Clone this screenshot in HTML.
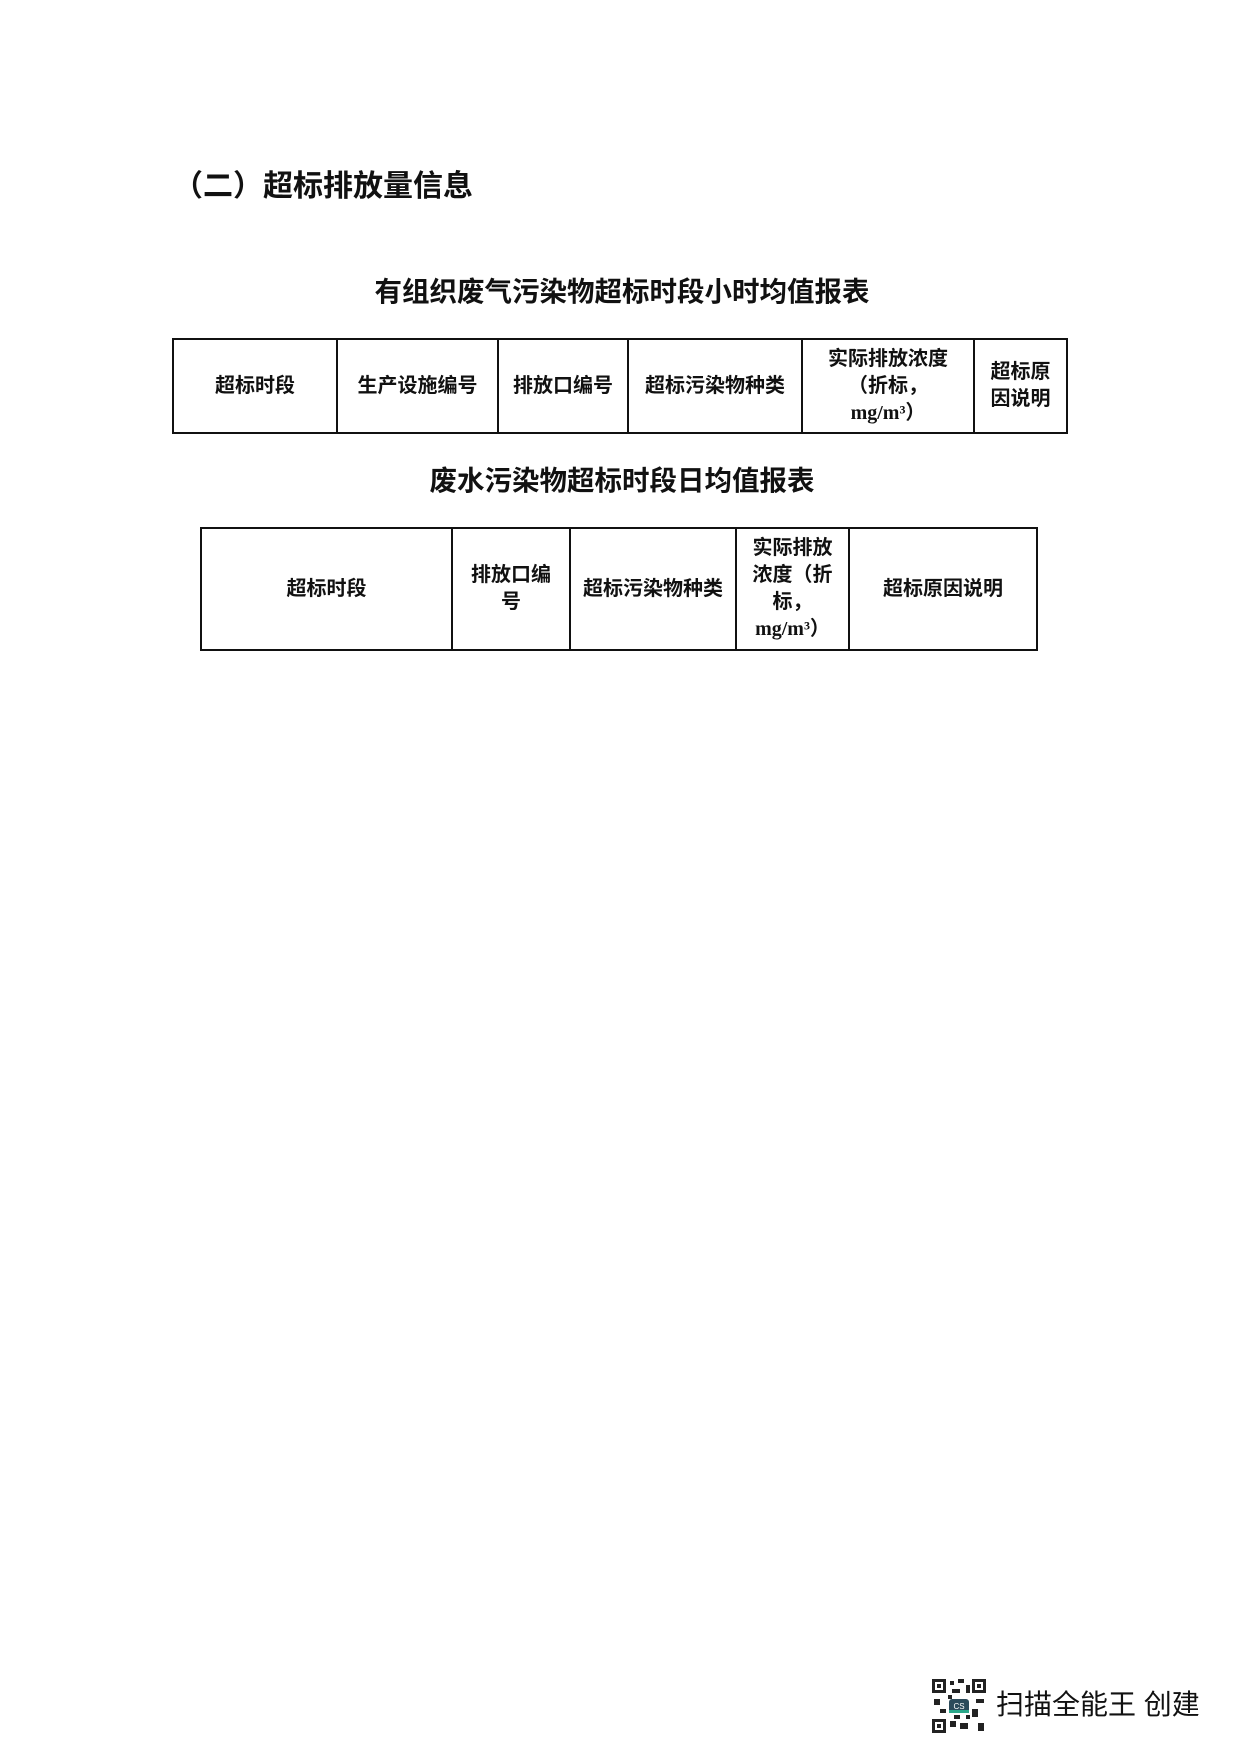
<!DOCTYPE html>
<html><head><meta charset="utf-8"><style>
body{margin:0;width:1240px;height:1755px;background:#fff;position:relative;font-family:"Liberation Serif","Noto Serif CJK SC","Noto Sans CJK SC",serif;color:#111;overflow:hidden}
.a{position:absolute}
.h{font-weight:bold;white-space:nowrap}
table{position:absolute;border-collapse:collapse;table-layout:fixed}
td{border:2px solid #111;text-align:center;vertical-align:middle;font-weight:bold;font-size:20px;line-height:27px;padding:0 2px;font-family:"Liberation Serif","Noto Sans CJK SC",sans-serif}
</style></head><body>
<div class="a h" style="left:173px;top:165px;font-size:30px;line-height:44px;font-family:'Liberation Sans','Noto Sans CJK SC',sans-serif">（二）超标排放量信息</div>
<div class="a h" style="left:0;width:1244px;text-align:center;top:270px;font-size:27.5px;line-height:44px;font-family:'Liberation Sans','Noto Sans CJK SC',sans-serif">有组织废气污染物超标时段小时均值报表</div>
<table style="left:172px;top:338px;width:894px;height:96px">
<colgroup><col style="width:164px"><col style="width:161px"><col style="width:130px"><col style="width:174px"><col style="width:172px"><col style="width:93px"></colgroup>
<tr><td>超标时段</td><td>生产设施编号</td><td>排放口编号</td><td>超标污染物种类</td><td>实际排放浓度<br>（折标，<br>mg/m³）</td><td>超标原<br>因说明</td></tr>
</table>
<div class="a h" style="left:0;width:1244px;text-align:center;top:459px;font-size:27.5px;line-height:44px;font-family:'Liberation Sans','Noto Sans CJK SC',sans-serif">废水污染物超标时段日均值报表</div>
<table style="left:200px;top:527px;width:836px;height:124px">
<colgroup><col style="width:251px"><col style="width:118px"><col style="width:166px"><col style="width:113px"><col style="width:188px"></colgroup>
<tr><td>超标时段</td><td>排放口编<br>号</td><td>超标污染物种类</td><td>实际排放<br>浓度（折<br>标，<br>mg/m³）</td><td>超标原因说明</td></tr>
</table>
<svg class="a" style="left:932px;top:1679px" width="54" height="54" viewBox="0 0 54 54">
<rect width="54" height="54" fill="#fff"/>
<g fill="#222">
<rect x="0" y="0" width="14" height="14"/><rect x="40" y="0" width="14" height="14"/><rect x="0" y="40" width="14" height="14"/>
<rect x="18" y="2" width="4" height="4"/><rect x="26" y="0" width="6" height="4"/><rect x="20" y="10" width="8" height="4"/><rect x="2" y="20" width="6" height="6"/><rect x="44" y="20" width="8" height="4"/><rect x="40" y="30" width="6" height="8"/><rect x="18" y="42" width="6" height="6"/><rect x="28" y="44" width="8" height="6"/><rect x="46" y="44" width="6" height="8"/><rect x="34" y="6" width="4" height="8"/><rect x="8" y="30" width="6" height="4"/>
<rect x="16" y="16" width="4" height="4"/><rect x="34" y="36" width="4" height="4"/><rect x="22" y="36" width="6" height="4"/>
</g>
<g fill="#fff"><rect x="3" y="3" width="8" height="8"/><rect x="43" y="3" width="8" height="8"/><rect x="3" y="43" width="8" height="8"/></g>
<g fill="#222"><rect x="5" y="5" width="4" height="4"/><rect x="45" y="5" width="4" height="4"/><rect x="5" y="45" width="4" height="4"/></g>
<rect x="17" y="20" width="20" height="14" rx="3" fill="#2b4a5a"/><rect x="17" y="31" width="20" height="3" fill="#2aa88a"/>
<text x="27" y="30" font-size="8" fill="#fff" text-anchor="middle" font-family="Liberation Sans">CS</text>
</svg>
<div class="a" style="left:996px;top:1688px;font-size:28px;line-height:34px;white-space:nowrap;font-family:'Liberation Sans','Noto Sans CJK SC',sans-serif">扫描全能王 创建</div>
</body></html>
